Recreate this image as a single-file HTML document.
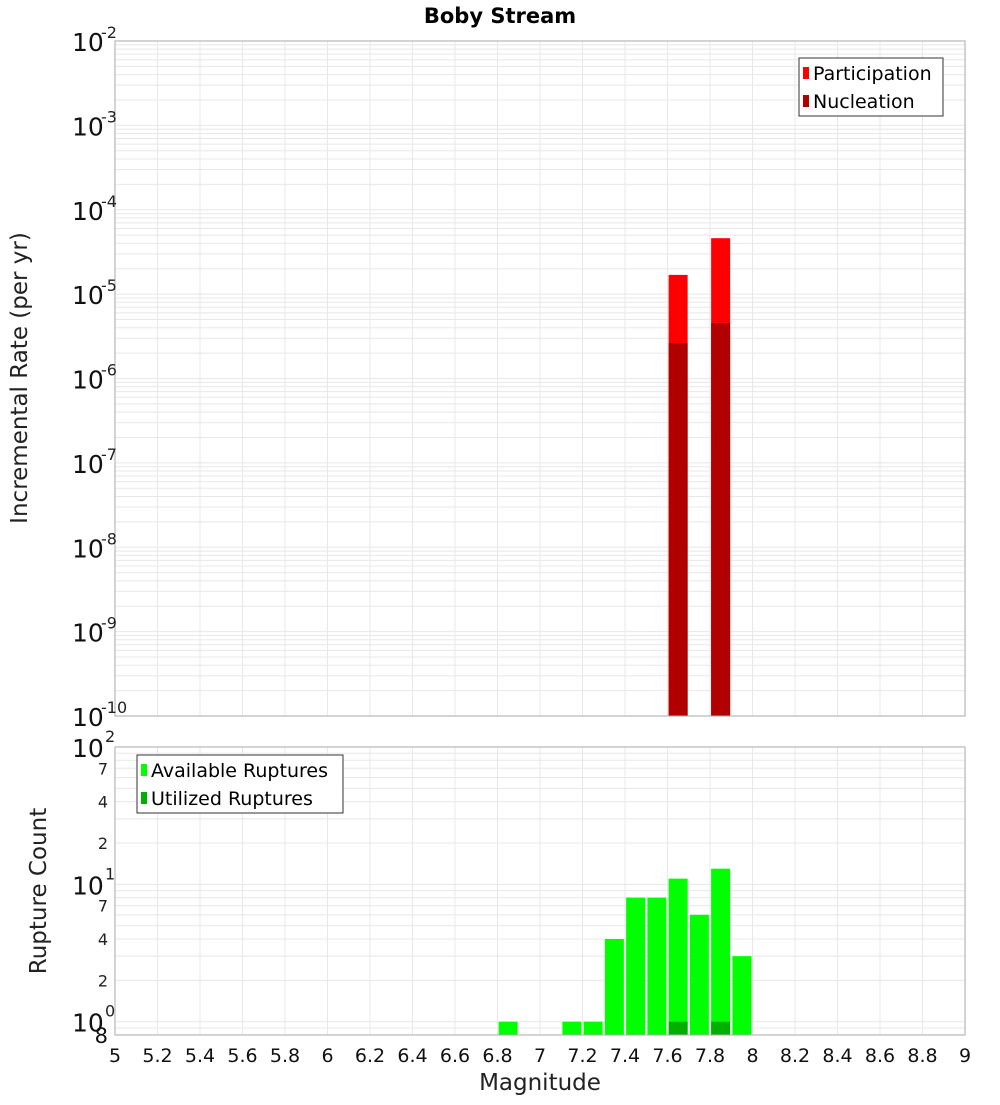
<!DOCTYPE html>
<html><head><meta charset="utf-8"><style>
body{margin:0;background:#fff;font-family:"Liberation Sans","DejaVu Sans",sans-serif}
</style></head><body>
<svg id="c" width="1000" height="1100" xmlns="http://www.w3.org/2000/svg" style="font-family:'DejaVu Sans','Liberation Sans',sans-serif">
<text x="500" y="23" text-anchor="middle" font-size="21" font-weight="bold">Boby Stream</text>
<g id="topPlot"></g>
<g id="botPlot"></g>
<text transform="translate(27,378) rotate(-90)" text-anchor="middle" font-size="23" fill="#222">Incremental Rate (per yr)</text>
<text transform="translate(46,891) rotate(-90)" text-anchor="middle" font-size="23" fill="#222">Rupture Count</text>
<text x="540" y="1090" text-anchor="middle" font-size="23" fill="#222">Magnitude</text>
</svg>
<script>
const rateMags=[7.65,7.85];
const participation=[1.69e-5,4.6e-5];
const nucleation=[2.63e-6,4.55e-6];
const countMags=[6.85,7.15,7.25,7.35,7.45,7.55,7.65,7.75,7.85,7.95];
const available=[1,1,1,4,8,8,11,6,13,3];
const utilMags=[7.65,7.85];
const utilized=[1,1];
const xTicks=[5,5.2,5.4,5.6,5.8,6,6.2,6.4,6.6,6.8,7,7.2,7.4,7.6,7.8,8,8.2,8.4,8.6,8.8,9];

const NS='http://www.w3.org/2000/svg';
const L=115,R=965;
const x=v=>L+(v-5)/4*(R-L);
const T0=41,T1=716;
const yT=v=>T0+(-2-Math.log10(v))/8*(T1-T0);
const B0=747,B1=1035;
const lb0=Math.log10(0.8),lb1=2;
const yB=v=>B1-(Math.log10(v)-lb0)/(lb1-lb0)*(B1-B0);
function el(p,t,a){const e=document.createElementNS(NS,t);for(const k in a)e.setAttribute(k,a[k]);p.appendChild(e);return e;}
const gTop=document.getElementById('topPlot'),gBot=document.getElementById('botPlot');
for(const g of [gTop,gBot]){
  const y0=g===gTop?T0:B0,y1=g===gTop?T1:B1;
  xTicks.forEach(t=>{const l=el(g,'line',{x1:x(t),x2:x(t),y1:y0,y2:y1,stroke:'#e8e8e8'});
    
    });
}
for(let d=-10;d<-2;d++)for(let m=1;m<10;m++){const v=m*Math.pow(10,d);const yy=yT(v);
  const l=el(gTop,'line',{x1:L,x2:R,y1:yy,y2:yy,stroke:'#e8e8e8'});
  
  }
for(let d=-1;d<2;d++)for(let m=1;m<10;m++){const v=m*Math.pow(10,d);if(v<0.8)continue;const yy=yB(v);
  const l=el(gBot,'line',{x1:L,x2:R,y1:yy,y2:yy,stroke:'#e8e8e8'});
  
  }
const bw=19;
rateMags.forEach((m,i)=>{
  const r=el(gTop,'rect',{x:x(m)-bw/2,y:yT(participation[i]),width:bw,height:T1-yT(participation[i]),fill:'#ff0000'});
  
  
  const n=el(gTop,'rect',{x:x(m)-bw/2,y:yT(nucleation[i]),width:bw,height:T1-yT(nucleation[i]),fill:'#b00000'});
  
  
});
countMags.forEach((m,i)=>{
  const r=el(gBot,'rect',{x:x(m)-bw/2,y:yB(available[i]),width:bw,height:B1-yB(available[i]),fill:'#00ff00'});
  
  
});
utilMags.forEach((m,i)=>{
  const r=el(gBot,'rect',{x:x(m)-bw/2,y:yB(utilized[i]),width:bw,height:B1-yB(utilized[i]),fill:'#00b000'});
  
  
});
el(gTop,'rect',{x:L,y:T0,width:R-L,height:T1-T0,fill:'none',stroke:'#aaa'});
el(gBot,'rect',{x:L,y:B0,width:R-L,height:B1-B0,fill:'none',stroke:'#aaa'});
for(let d=-10;d<=-2;d++){const yy=yT(Math.pow(10,d));
  const t=el(gTop,'text',{x:72,y:yy+10,'font-size':25,fill:'#111'});t.textContent='10';
  
  
  const s=el(gTop,'text',{x:101,y:yy-3,'font-size':16,fill:'#222'});s.textContent=String(d);
  
  }
[0,1,2].forEach(d=>{const yy=yB(Math.pow(10,d));
  const t=el(gBot,'text',{x:72,y:yy+10,'font-size':25,fill:'#111'});t.textContent='10';
  
  
  const s=el(gBot,'text',{x:105,y:yy-5,'font-size':16,fill:'#222'});s.textContent=String(d);
  
  });
[2,4,7,20,40,70].forEach(v=>{const t=el(gBot,'text',{x:108,y:yB(v)+6,'font-size':16,fill:'#222','text-anchor':'end'});t.textContent=String(v).charAt(0);
  
  });
{const t=el(gBot,'text',{x:108,y:1043,'font-size':21,fill:'#111','text-anchor':'end'});t.textContent='8';
 
 }
xTicks.forEach(v=>{const t=el(gBot,'text',{x:x(v),y:1062,'font-size':19,fill:'#111','text-anchor':'middle'});t.textContent=String(v);
  
  });
function legend(g,lx,ly,w,items,name){
  const gg=el(g,'g',{});
  
  
  el(gg,'rect',{x:lx,y:ly,width:w,height:58,fill:'#fff',stroke:'#333'});
  items.forEach((it,i)=>{el(gg,'rect',{x:lx+4,y:ly+9+i*28,width:6,height:12,fill:it[1]});
    const t=el(gg,'text',{x:lx+14,y:ly+22+i*28,'font-size':19,fill:'#000'});t.textContent=it[0];
    
    });
}
legend(gTop,799,58,144,[['Participation','#ff0000'],['Nucleation','#b00000']],'rate-legend');
legend(gBot,137,755,206,[['Available Ruptures','#00ff00'],['Utilized Ruptures','#00b000']],'count-legend');
</script>
</body></html>
